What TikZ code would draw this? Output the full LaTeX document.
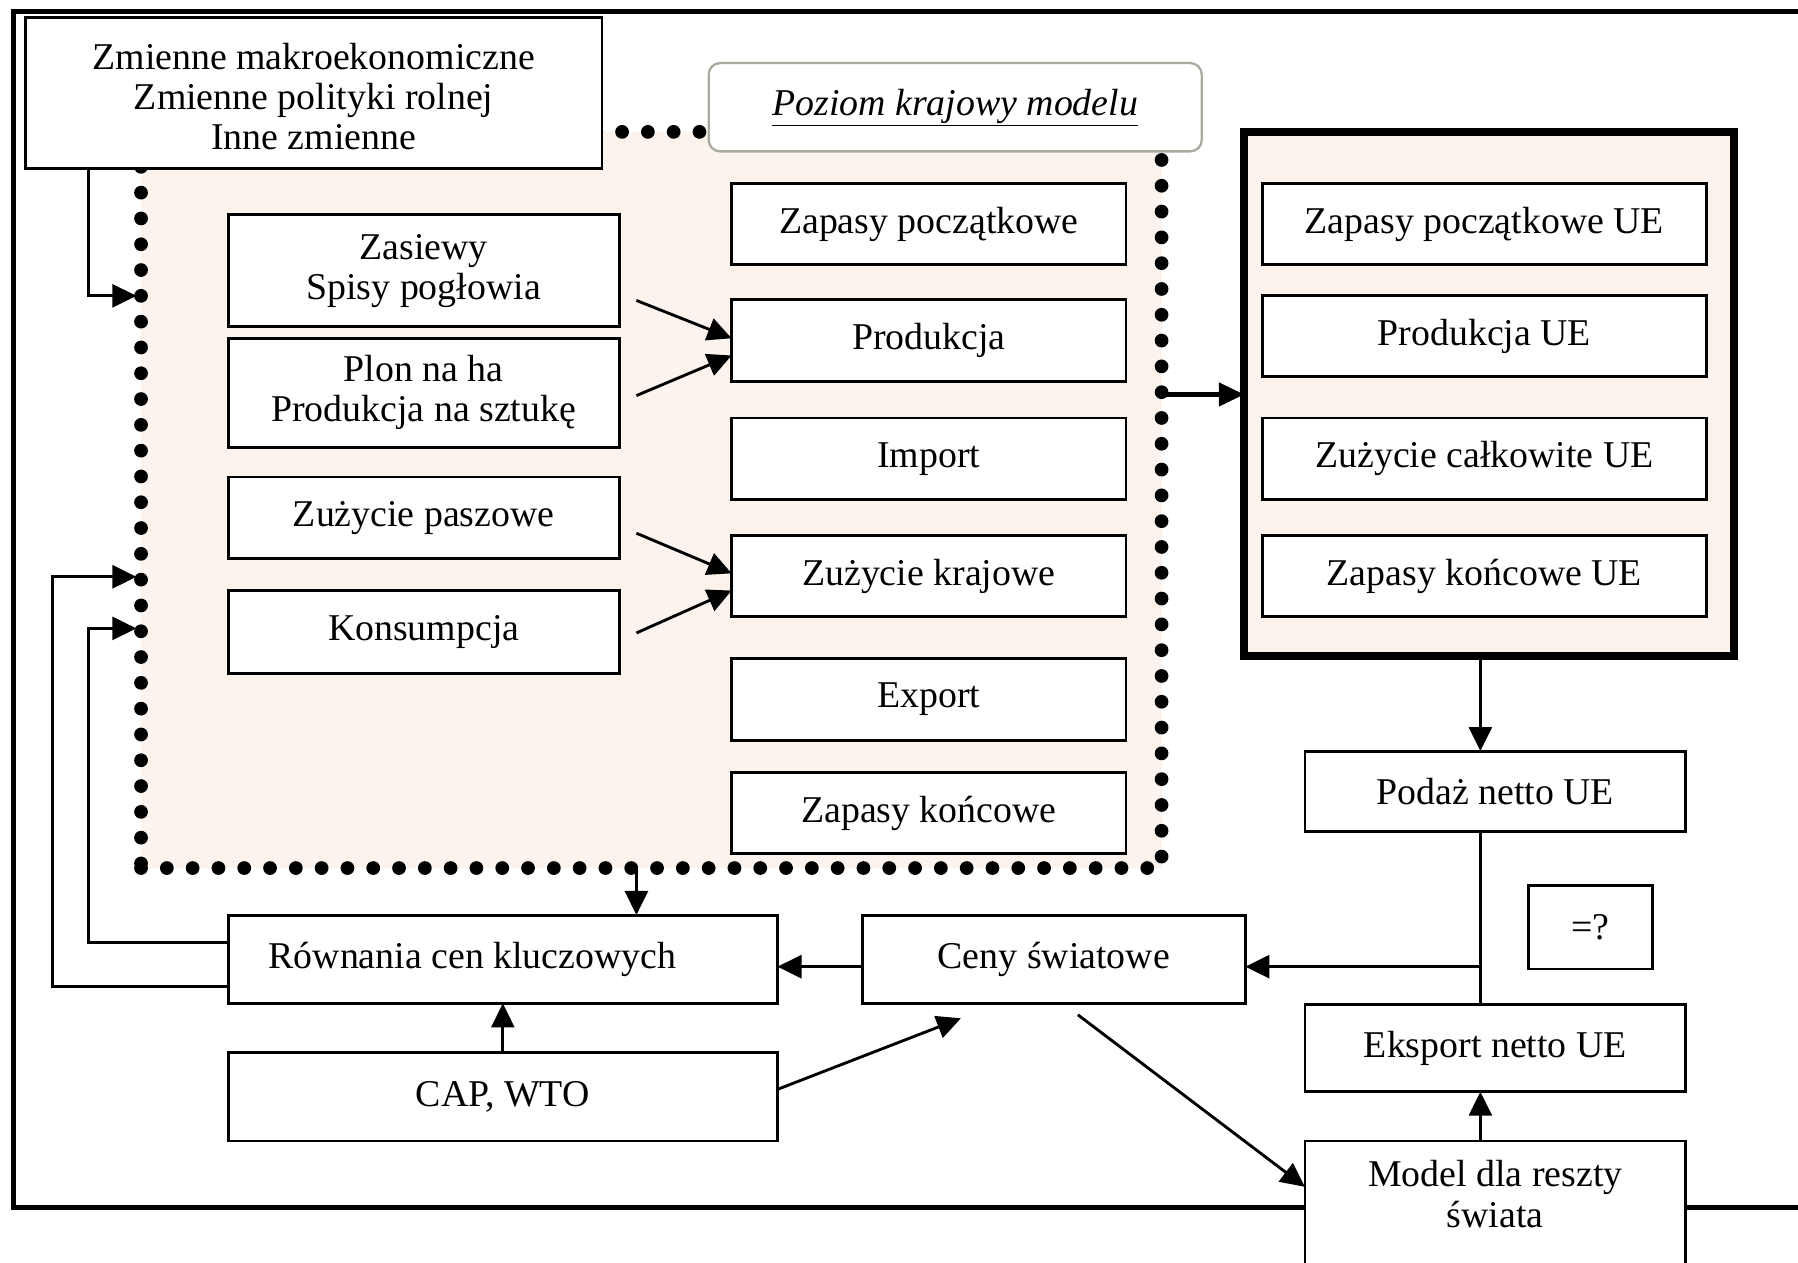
\documentclass[tikz,border=0pt]{standalone}
\usepackage{fontspec}
\setmainfont{Liberation Serif}
\usetikzlibrary{arrows.meta}
\definecolor{beige}{RGB}{252,243,236}
\definecolor{pgray}{RGB}{170,170,160}
\begin{document}
\begin{tikzpicture}[x=1pt,y=-1pt,
 txt/.style={font=\fontsize{33}{35}\selectfont},
 box/.style={draw, line width=2.5pt, fill=white, rectangle, inner sep=0pt, outer sep=0pt, align=center, txt},
 arr/.style={line width=2.5pt, -{Triangle[length=21pt,width=20pt]}},
 ln/.style={line width=2.5pt}]
\fill[white] (0,0) rectangle (1568,1101);
\useasboundingbox (0,0) rectangle (1568,1101);
% outer frame
\draw[line width=4pt] (1600,10) -- (12,10) -- (12,1053) -- (1600,1053);
% national level region
\node[draw, fill=beige, line width=12pt, dash pattern=on 0pt off 22.5pt, line cap=round,
      minimum width=890pt, minimum height=642pt, inner sep=0pt, outer sep=0pt] (dom) at (568,436) {};
\node[draw=pgray, line width=2pt, rounded corners=10pt, fill=white, minimum width=430pt,
      minimum height=77pt, inner sep=0pt, outer sep=0pt, txt] (poz) at (833,93.5) {\underline{\textit{Poziom krajowy modelu}}};
\node[box, minimum width=503pt, minimum height=132pt] (mac) at (273.5,81) {\rule{0pt}{29pt}Zmienne makroekonomiczne\\Zmienne polityki rolnej\\Inne zmienne};
% left column
\node[box, minimum width=341pt, minimum height=98pt] (zas) at (369.5,236) {Zasiewy\\Spisy pogłowia};
\node[box, minimum width=341pt, minimum height=95pt] (plo) at (369.5,342.5) {Plon na ha\\Produkcja na sztukę};
\node[box, minimum width=341pt, minimum height=71pt] (pas) at (369.5,451.5) {Zużycie paszowe};
\node[box, minimum width=341pt, minimum height=72pt] (kon) at (369.5,551) {Konsumpcja};
% middle column
\node[box, minimum width=344pt, minimum height=71pt] (zp) at (810,195.5) {Zapasy początkowe};
\node[box, minimum width=344pt, minimum height=71pt] (prod) at (810,297) {Produkcja};
\node[box, minimum width=344pt, minimum height=71pt] (imp) at (810,400) {Import};
\node[box, minimum width=344pt, minimum height=71pt] (zk) at (810,502.5) {Zużycie krajowe};
\node[box, minimum width=344pt, minimum height=71pt] (exp) at (810,610) {Export};
\node[box, minimum width=344pt, minimum height=71pt] (zkon) at (810,709) {Zapasy końcowe};
% EU box
\node[draw, line width=7pt, fill=beige, minimum width=427pt, minimum height=457pt, inner sep=0pt, outer sep=0pt] (eu) at (1298.5,343.5) {};
\node[box, minimum width=387pt, minimum height=71pt] (eu1) at (1294.5,195.5) {Zapasy początkowe UE};
\node[box, minimum width=387pt, minimum height=71pt] (eu2) at (1294.5,293) {Produkcja UE};
\node[box, minimum width=387pt, minimum height=71pt] (eu3) at (1294.5,400) {Zużycie całkowite UE};
\node[box, minimum width=387pt, minimum height=71pt] (eu4) at (1294.5,502.5) {Zapasy końcowe UE};
% lower boxes
\node[box, minimum width=479pt, minimum height=77pt] (ron) at (438.5,836.5) {Równania cen kluczowych\hspace*{53pt}};
\node[box, minimum width=479pt, minimum height=77pt] (cap) at (438.5,956.5) {CAP, WTO};
\node[box, minimum width=334pt, minimum height=77pt] (cen) at (919,836.5) {Ceny światowe};
\node[box, minimum width=332pt, minimum height=70pt] (pod) at (1304,690) {Podaż netto UE};
\node[box, minimum width=108pt, minimum height=73pt] (eq) at (1387,808.5) {=?};
\node[box, minimum width=332pt, minimum height=76pt] (eks) at (1304,914) {Eksport netto UE};
\node[box, minimum width=332pt, minimum height=140pt, anchor=north] (mod) at (1304,995) {};
\node[txt, align=center, anchor=north, inner sep=0pt] (modt) at (1304,1012) {Model dla reszty\\świata};
% coordinates
\coordinate (xa) at (1291,0);
\coordinate (c843) at (0,843);
\coordinate (c344) at (0,344);
\coordinate (c555) at (555,0);
\coordinate (c77) at (77,258);
\coordinate (f1a) at (77,822);
\coordinate (f1b) at (77,548);
\coordinate (f2a) at (46,860);
\coordinate (f2b) at (46,503);
\coordinate (s1) at (555,262);
\coordinate (s2) at (555,345);
\coordinate (s3) at (555,465);
\coordinate (s4) at (555,552);
\coordinate (cs) at (940,885);
\coordinate (ce) at (838,888);
% connectors
\draw[arr] (s1) -- ([yshift=2pt]prod.west);
\draw[arr] (s2) -- ([yshift=-13pt]prod.west);
\draw[arr] (s3) -- ([yshift=2.5pt]zk.west);
\draw[arr] (s4) -- ([yshift=-12.5pt]zk.west);
\draw[arr] (mac.south -| c77) -- (c77) -- ([xshift=-4pt]dom.west |- c77);
\draw[arr] (ron.west |- f1a) -- (f1a) -- (f1b) -- ([xshift=-4pt]dom.west |- f1b);
\draw[arr] (ron.west |- f2a) -- (f2a) -- (f2b) -- ([xshift=-4pt]dom.west |- f2b);
\draw[line width=4pt, -{Triangle[length=22pt,width=20pt]}] (dom.east |- c344) -- (eu.west |- c344);
\draw[arr] (dom.south -| c555) -- (ron.north -| c555);
\draw[arr] (cen.west |- c843) -- (ron.east |- c843);
\draw[arr] (cap.north) -- (ron.south);
\draw[arr] ([yshift=6.5pt]cap.east) -- (ce);
\draw[arr] (cs) -- ([yshift=30pt]mod.west);
\draw[arr] (eu.south -| xa) -- (pod.north -| xa);
\draw[ln] (pod.south -| xa) -- (eks.north -| xa);
\draw[arr] (xa |- c843) -- (cen.east |- c843);
\draw[arr] (mod.north -| xa) -- (eks.south -| xa);
\end{tikzpicture}
\end{document}
